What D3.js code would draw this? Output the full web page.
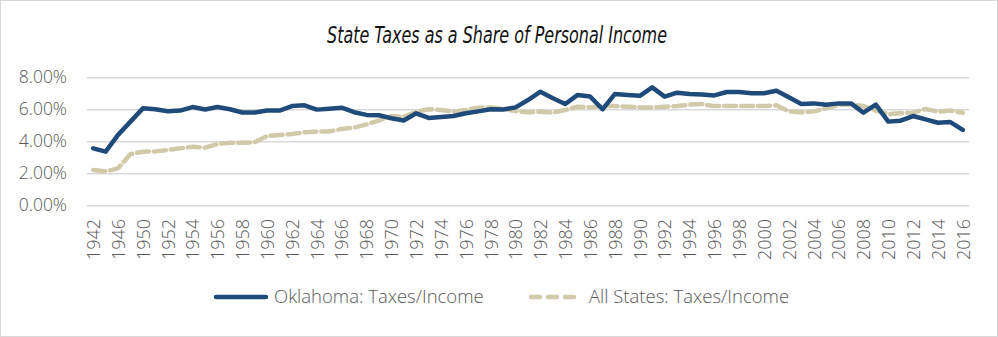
<!DOCTYPE html>
<html>
<head>
<meta charset="utf-8">
<script src="https://cdn.jsdelivr.net/npm/d3@7"></script>
<style>
  body { margin: 0; background: #fff; }
  svg { display: block; }
</style>
</head>
<body>
<script>
const width = 998, height = 337;

const years = ["1942", "1944", "1946", "1948"].concat(d3.range(1950, 2017).map(String));

const oklahoma = [
  3.56, 3.35, 4.4, 5.23, 6.06, 6.0, 5.88, 5.92, 6.14, 5.99, 6.14, 6.0,
  5.8, 5.8, 5.92, 5.92, 6.2, 6.25, 5.98, 6.04, 6.1, 5.82, 5.65, 5.63,
  5.44, 5.3, 5.75, 5.46, 5.52, 5.58, 5.75, 5.87, 6.0, 5.99, 6.12,
  6.58, 7.1, 6.69, 6.33, 6.9, 6.8, 6.0, 6.96, 6.9, 6.84, 7.37, 6.79,
  7.04, 6.96, 6.92, 6.87, 7.08, 7.08, 7.0, 7.0, 7.16, 6.75, 6.33, 6.37,
  6.29, 6.37, 6.37, 5.79, 6.29, 5.23, 5.29, 5.58, 5.37, 5.16, 5.2, 4.71
];

const allStates = [
  2.21, 2.12, 2.31, 3.2, 3.35, 3.37, 3.46, 3.56, 3.66, 3.6, 3.83, 3.91,
  3.91, 3.94, 4.33, 4.39, 4.45, 4.56, 4.6, 4.62, 4.77, 4.85, 5.06, 5.3,
  5.58, 5.54, 5.85, 6.0, 5.96, 5.85, 5.96, 6.1, 6.12, 6.04, 5.89,
  5.81, 5.85, 5.79, 5.96, 6.16, 6.12, 6.2, 6.2, 6.16, 6.12, 6.12, 6.16,
  6.2, 6.29, 6.33, 6.2, 6.2, 6.2, 6.2, 6.2, 6.25, 5.87, 5.81, 5.87,
  6.06, 6.27, 6.31, 6.2, 5.92, 5.69, 5.75, 5.79, 6.02, 5.85, 5.92, 5.79
];

const yTicks = [0, 0.02, 0.04, 0.06, 0.08];

const series = [
  {name: "Oklahoma: Taxes/Income", values: oklahoma, color: "#1f4b7a", dash: null, keyDash: null},
  {name: "All States: Taxes/Income", values: allStates, color: "#d1caa8", dash: "12,5", keyDash: "9,8"}
];

const svg = d3.select("body").append("svg")
    .attr("width", width)
    .attr("height", height)
    .attr("viewBox", [0, 0, width, height]);

svg.append("rect")
    .attr("x", 0.5).attr("y", 0.5)
    .attr("width", width - 1).attr("height", height - 1)
    .attr("fill", "#fff")
    .attr("stroke", "#d9d9d9");

const x = d3.scalePoint()
    .domain(years)
    .range([87, 969])
    .padding(0.5);

const y = d3.scaleLinear()
    .domain([0, 0.08])
    .range([205.3, 77.3]);

// title (condensed italic look)
svg.append("text")
    .attr("x", 497)
    .attr("y", 43)
    .attr("text-anchor", "middle")
    .attr("textLength", 340)
    .attr("lengthAdjust", "spacingAndGlyphs")
    .style("font", "italic 23px 'Liberation Sans Narrow', 'DejaVu Sans Condensed', sans-serif")
    .attr("fill", "#111")
    .text("State Taxes as a Share of Personal Income");

// gridlines + y labels
const yAxis = svg.append("g")
    .attr("transform", "translate(87,0)")
    .call(d3.axisLeft(y).tickValues(yTicks).tickFormat(d3.format(".2%"))
      .tickSize(-(969 - 87)).tickPadding(20));
yAxis.select(".domain").remove();
yAxis.selectAll(".tick line").attr("stroke", "#d9d9d9").attr("stroke-width", 1.5);
yAxis.selectAll(".tick text")
    .attr("fill", "#595959")
    .style("font", "300 17.5px 'Open Sans', sans-serif");

// x labels
const xAxis = svg.append("g")
    .attr("transform", "translate(0,212)")
    .call(d3.axisBottom(x).tickValues(years.filter((d, i) => i % 2 === 0)).tickSize(0));
xAxis.select(".domain").remove();
xAxis.selectAll(".tick text")
    .attr("transform", "rotate(-90)")
    .attr("x", -7)
    .attr("y", 0)
    .attr("dy", "0.35em")
    .attr("text-anchor", "end")
    .attr("fill", "#595959")
    .style("font", "300 18px 'Open Sans', sans-serif");

// lines
const line = d3.line()
    .x((d, i) => x(years[i]))
    .y(d => y(d / 100));

svg.append("g")
  .selectAll("path")
  .data(series.slice().reverse())
  .join("path")
    .attr("fill", "none")
    .attr("stroke", d => d.color)
    .attr("stroke-width", 4.5)
    .attr("stroke-linejoin", "round")
    .attr("stroke-linecap", "round")
    .attr("stroke-dasharray", d => d.dash)
    .attr("d", d => line(d.values));

// legend
const legendX = [216, 531];
const legend = svg.append("g")
  .selectAll("g")
  .data(series)
  .join("g")
    .attr("transform", (d, i) => `translate(${legendX[i]},297)`);

legend.append("line")
    .attr("x1", 0).attr("x2", 50)
    .attr("stroke", d => d.color)
    .attr("stroke-width", 4.5)
    .attr("stroke-linecap", "round")
    .attr("stroke-dasharray", d => d.keyDash);

legend.append("text")
    .attr("x", 58)
    .attr("dy", "0.35em")
    .attr("fill", "#595959")
    .style("font", "300 18.5px 'Open Sans', sans-serif")
    .text(d => d.name);
</script>
</body>
</html>
